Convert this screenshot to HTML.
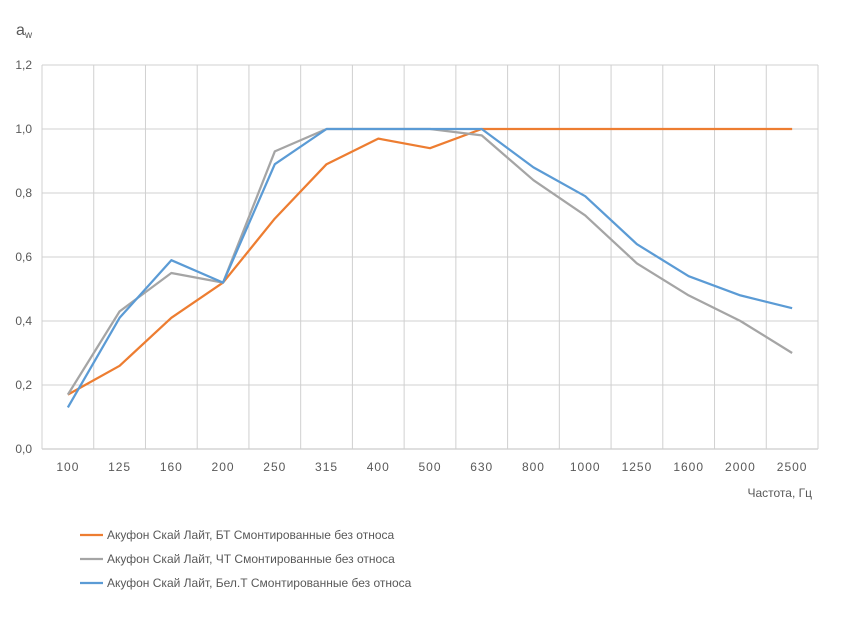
<!DOCTYPE html>
<html><head><meta charset="utf-8"><style>
body{margin:0;background:#fff;font-family:"Liberation Sans",sans-serif;}
text{font-family:"Liberation Sans",sans-serif;fill:#595959;}
</style></head><body>
<svg id="chart" width="847" height="632" xmlns="http://www.w3.org/2000/svg">
<g id="grid"></g>
<g id="axes"></g>
<g id="series"></g>
<text x="16" y="35" font-size="16">a<tspan font-size="10" dy="3">w</tspan></text>
<text x="812" y="497" font-size="12" text-anchor="end">Частота, Гц</text>
<g id="legend"></g>
</svg>
<script>
const categories=["100","125","160","200","250","315","400","500","630","800","1000","1250","1600","2000","2500"];
const seriesBT=[0.17,0.26,0.41,0.52,0.72,0.89,0.97,0.94,1.0,1.0,1.0,1.0,1.0,1.0,1.0];
const seriesCT=[0.17,0.43,0.55,0.52,0.93,1.0,1.0,1.0,0.98,0.84,0.73,0.58,0.48,0.40,0.30];
const seriesBelT=[0.13,0.41,0.59,0.52,0.89,1.0,1.0,1.0,1.0,0.88,0.79,0.64,0.54,0.48,0.44];
const yTicks=["0,0","0,2","0,4","0,6","0,8","1,0","1,2"];
const yTickValues=[0,0.2,0.4,0.6,0.8,1.0,1.2];
const seriesNames=["Акуфон Скай Лайт, БТ Смонтированные без относа","Акуфон Скай Лайт, ЧТ Смонтированные без относа","Акуфон Скай Лайт, Бел.Т Смонтированные без относа"];
const L=42,R=818,T=65,B=449,NS="http://www.w3.org/2000/svg";
const bw=(R-L)/categories.length;
const xPos=i=>L+bw*(i+0.5);
const yPos=v=>B-(v/1.2)*(B-T);
function mk(tag,attrs,parent){const e=document.createElementNS(NS,tag);for(const k in attrs)e.setAttribute(k,attrs[k]);parent.appendChild(e);return e;}
const grid=document.getElementById('grid'),axes=document.getElementById('axes'),ser=document.getElementById('series'),leg=document.getElementById('legend');
yTickValues.forEach((v,i)=>{
 const l=mk('line',{x1:L,x2:R,y1:yPos(v),y2:yPos(v),stroke:v===0?'#bfbfbf':'#d0d0d0','stroke-width':1},grid);
 
 
 const t=mk('text',{x:L-10,y:yPos(v)+4,'font-size':12,'text-anchor':'end'},axes);
 t.textContent=yTicks[i];
 
 
});
for(let i=0;i<=categories.length;i++){
 const x=L+bw*i;
 const l=mk('line',{x1:x,x2:x,y1:T,y2:B,stroke:'#d0d0d0','stroke-width':1},grid);
 
 
}
categories.forEach((c,i)=>{
 const t=mk('text',{x:xPos(i),y:B+22,'font-size':12,'text-anchor':'middle','letter-spacing':'1'},axes);
 t.textContent=c;
 
 
});
const all=[[seriesBT,'#ed7d31'],[seriesCT,'#a5a5a5'],[seriesBelT,'#5b9bd5']];
all.forEach(([d,col],k)=>{
 const p=mk('polyline',{points:d.map((v,i)=>xPos(i)+','+yPos(v)).join(' '),fill:'none',stroke:col,'stroke-width':2.25,'stroke-linejoin':'round'},ser);
 
 
 const y=535+k*24;
 const ll=mk('line',{x1:80,x2:103,y1:y,y2:y,stroke:col,'stroke-width':2.25},leg);
 
 
 const t=mk('text',{x:107,y:y+4,'font-size':12},leg);
 t.textContent=seriesNames[k];
 
 
});
</script>
</body></html>
